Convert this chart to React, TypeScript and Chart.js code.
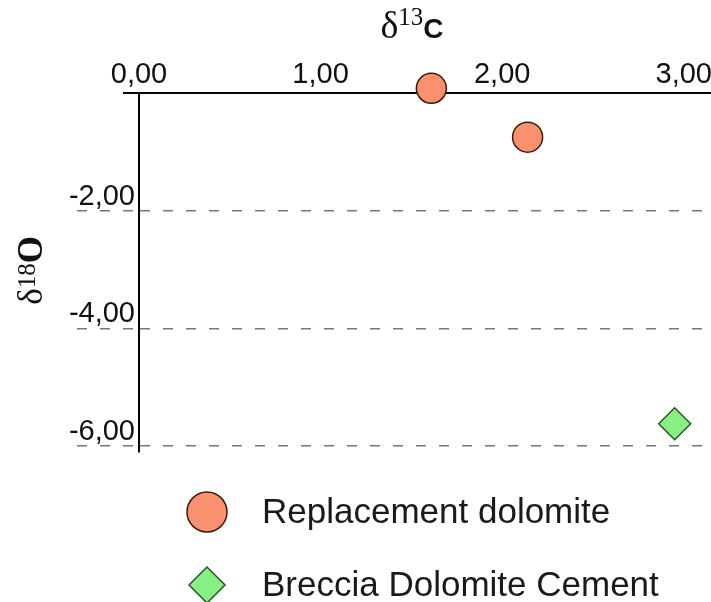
import React, { useEffect, useRef } from 'react';
import { Chart, registerables } from 'chart.js';
import { drawPoint } from 'chart.js/helpers';

Chart.register(...registerables);

const seriesNames = ['Replacement dolomite', 'Breccia Dolomite Cement'];
const replacementC = [1.61, 2.14];
const replacementO = [0.08, -0.75];
const brecciaC = [2.95];
const brecciaO = [-5.62];
const xTickValues = [0, 1, 2, 3];
const yTickValues = [0, -2, -4, -6];

const SANS = '"Liberation Sans", Arial, sans-serif';
const SERIF = '"Liberation Serif", "Times New Roman", serif';

const fmt = (v: number) => v.toFixed(2).replace('.', ',');

const titlePlugin = {
  id: 'axisTitles',
  afterDraw(chart: any) {
    const ctx = chart.ctx as CanvasRenderingContext2D;
    const area = chart.chartArea;
    ctx.save();
    // short extension of the top axis line to the left of the y axis
    const y0 = chart.scales.y.getPixelForValue(0);
    ctx.strokeStyle = '#000';
    ctx.lineWidth = 2;
    ctx.beginPath();
    ctx.moveTo(area.left - 16, y0);
    ctx.lineTo(area.left, y0);
    ctx.stroke();

    ctx.fillStyle = '#111';
    ctx.textBaseline = 'alphabetic';
    // top title: δ13C
    const parts = [
      { t: 'δ', f: `38px ${SERIF}`, dy: 0 },
      { t: '13', f: `25px ${SERIF}`, dy: -13 },
      { t: 'C', f: `bold 28px ${SANS}`, dy: 0 },
    ];
    let total = 0;
    const widths = parts.map((p) => {
      ctx.font = p.f;
      const w = ctx.measureText(p.t).width;
      total += w;
      return w;
    });
    let x = 412 - total / 2;
    const base = 38;
    parts.forEach((p, i) => {
      ctx.font = p.f;
      ctx.fillText(p.t, x, base + p.dy);
      x += widths[i];
    });
    // left title: δ18O rotated
    const yparts = [
      { t: 'δ', f: `35px ${SERIF}`, dy: 0 },
      { t: '18', f: `25px ${SERIF}`, dy: -7 },
      { t: 'O', f: `bold 35px ${SERIF}`, dy: 0 },
    ];
    let ytotal = 0;
    const ywidths = yparts.map((p) => {
      ctx.font = p.f;
      const w = ctx.measureText(p.t).width;
      ytotal += w;
      return w;
    });
    ctx.translate(42, (area.top + area.bottom) / 2 - 2);
    ctx.rotate(-Math.PI / 2);
    let yx = -ytotal / 2;
    yparts.forEach((p, i) => {
      ctx.font = p.f;
      ctx.fillText(p.t, yx, p.dy);
      yx += ywidths[i];
    });
    ctx.restore();
  },
};

const legendPlugin = {
  id: 'stackedLegend',
  afterDraw(chart: any) {
    const ctx = chart.ctx as CanvasRenderingContext2D;
    const area = chart.chartArea;
    const radii = [20, 18];
    chart.data.datasets.forEach((ds: any, i: number) => {
      const cy = area.bottom + 60 + i * 73;
      const cx = 207;
      ctx.save();
      ctx.fillStyle = ds.backgroundColor;
      ctx.strokeStyle = ds.borderColor;
      ctx.lineWidth = ds.borderWidth;
      drawPoint(ctx, { pointStyle: ds.pointStyle, radius: radii[i], rotation: 0, borderWidth: ds.borderWidth }, cx, cy);
      ctx.fillStyle = '#1a1a1a';
      ctx.font = `35px ${SANS}`;
      ctx.textBaseline = 'middle';
      ctx.textAlign = 'left';
      ctx.fillText(ds.label, 262, cy + 1);
      ctx.restore();
    });
  },
};

export default function App() {
  const canvasRef = useRef<HTMLCanvasElement | null>(null);

  useEffect(() => {
    document.body.style.margin = '0';
    const canvas = canvasRef.current;
    if (!canvas) return;
    const tickFont = { family: SANS, size: 29 };
    const gridColor = (c: any) => (c.tick && c.tick.value === 0 ? 'rgba(0,0,0,0)' : '#777777');
    const chart = new Chart(canvas, {
      type: 'scatter',
      data: {
        datasets: [
          {
            label: seriesNames[0],
            data: replacementC.map((x, i) => ({ x, y: replacementO[i] })),
            pointStyle: 'circle',
            pointRadius: 15,
            pointHoverRadius: 15,
            backgroundColor: '#f9916f',
            borderColor: '#3d1a10',
            borderWidth: 1.5,
            clip: false,
          } as any,
          {
            label: seriesNames[1],
            data: brecciaC.map((x, i) => ({ x, y: brecciaO[i] })),
            pointStyle: 'rectRot',
            pointRadius: 16,
            pointHoverRadius: 16,
            backgroundColor: '#86f083',
            borderColor: '#2a562a',
            borderWidth: 1.5,
            clip: false,
          } as any,
        ],
      },
      options: {
        animation: false,
        responsive: true,
        maintainAspectRatio: false,
        layout: { autoPadding: false, padding: { top: 0, left: 0, right: 0, bottom: 150 } },
        plugins: {
          legend: { display: false },
          tooltip: { enabled: false },
          title: { display: false },
        },
        scales: {
          x: {
            type: 'linear',
            position: 'top',
            min: 0,
            max: 3.15,
            afterBuildTicks: (s: any) => {
              s.ticks = xTickValues.map((v) => ({ value: v }));
            },
            afterFit: (s: any) => {
              s.height = 93;
              s.paddingLeft = 0;
              s.paddingRight = 0;
            },
            ticks: {
              font: tickFont,
              color: '#111',
              padding: 1,
              maxRotation: 0,
              autoSkip: false,
              callback: (v: any) => fmt(Number(v)),
            },
            grid: { display: false, drawTicks: false },
            border: { display: true, color: '#000', width: 2 },
          },
          y: {
            type: 'linear',
            position: 'left',
            min: -6.1,
            max: 0,
            afterBuildTicks: (s: any) => {
              s.ticks = yTickValues.map((v) => ({ value: v }));
            },
            afterFit: (s: any) => {
              s.width = 139;
              s.paddingTop = 0;
              s.paddingBottom = 0;
            },
            ticks: {
              font: tickFont,
              color: '#111',
              padding: -58,
              labelOffset: -14,
              autoSkip: false,
              callback: (v: any) => (Number(v) === 0 ? '' : fmt(Number(v))),
            },
            grid: {
              color: gridColor,
              lineWidth: 1.5,
              tickLength: 62,
              tickColor: gridColor,
              tickWidth: 1.5,
              tickBorderDash: [10, 13],
            },
            border: { display: true, color: '#000', width: 2, dash: [10, 13] },
          },
        },
      } as any,
      plugins: [titlePlugin, legendPlugin],
    });
    return () => chart.destroy();
  }, []);

  return (
    <div style={{ position: 'relative', width: 711, height: 602 }}>
      <canvas ref={canvasRef} />
    </div>
  );
}
